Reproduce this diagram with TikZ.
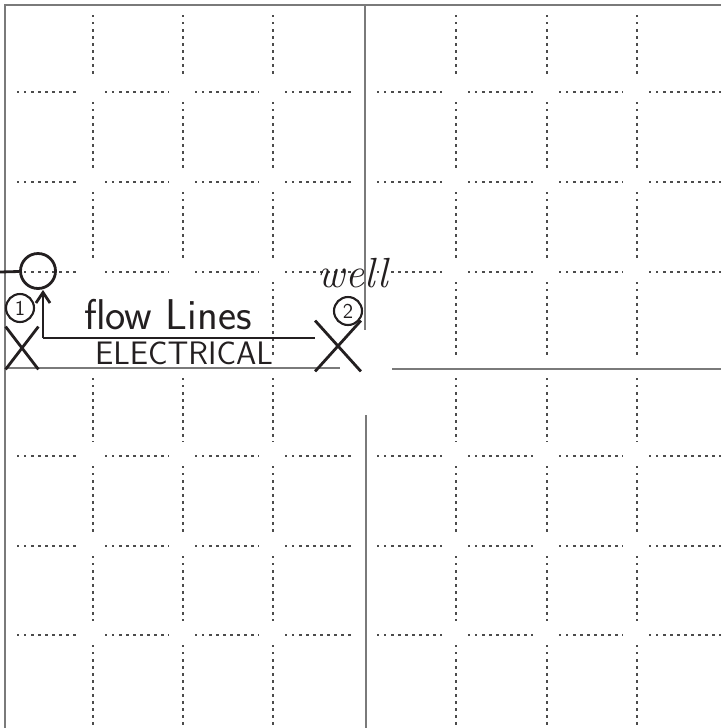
\documentclass[tikz,border=0pt]{standalone}
\usepackage{tikz}
\usetikzlibrary{arrows.meta, positioning, shapes.misc}
\definecolor{gridGray}{HTML}{7A7A7A}
\definecolor{penInk}{HTML}{231F20}

\begin{document}
\begin{tikzpicture}[x=0.02cm, y=-0.02cm,
    ink/.style={draw=penInk, line width=1.6pt},
    dots/.style={draw=black!70, line width=1.4pt, dash pattern=on 1.4pt off 2.6pt},
    wellmark/.style={cross out, draw=penInk, line width=1.6pt, inner sep=0pt},
    wellnum/.style={circle, draw=penInk, line width=1.2pt, minimum size=0.56cm,
      inner sep=0pt, font=\sffamily\large, text=penInk},
    note/.style={inner sep=0pt, anchor=base, text=penInk}]
        \useasboundingbox (0,0) rectangle (721,728);
        % section lines
        \draw[gridGray, line width=0.6pt] (5,728) -- (5,5) -- (721,5);
        \draw[gridGray, line width=0.6pt] (365,5) -- (365,330);
        \draw[gridGray, line width=0.6pt] (366,415) -- (366,728);
        \draw[gridGray, line width=0.6pt] (5,368) -- (340,368);
        \draw[gridGray, line width=0.6pt] (392,369) -- (721,369);
        % dotted quarter lines
        \foreach \x in {93,183,273,456,547,637}
          \foreach \a/\b in {5/92,92/182,182/272,368/456,456/546,546/635,635/742}
            \draw[dots] (\x,\a+10) -- (\x,\b-14);
        \foreach \x in {273,456,547,637}
          \draw[dots] (\x,282) -- (\x,358);
        \foreach \y in {92,182,272,456,546,635}
          \foreach \a/\b in {5/93,93/183,183/273,273/365,365/456,456/547,547/637,637/735}
            \draw[dots] (\a+12,\y) -- (\b-14,\y);
        % hand notes
        \node[circle, draw=penInk, line width=1.6pt, minimum size=0.7cm, inner sep=0pt]
          (tank) at (38,271) {};
        \coordinate (lineIn) at (0,272);
        \coordinate (bend) at (43,338);
        \node[wellnum] (num1) at (20,308) {1};
        \node[wellmark, minimum width=0.6cm, minimum height=0.8cm] (well1) at (22,348) {};
        \node[wellnum] (num2) at (348,311) {2};
        \node[wellmark, minimum width=0.86cm, minimum height=0.96cm] (well2) at (338,346) {};
        \draw[ink] (lineIn) -- (tank);
        \draw[ink, -{Straight Barb[length=6pt, width=8pt]}] (bend) -- (bend |- tank.south);
        \draw[ink] (bend) -- (bend -| well2.west);
        \node[note, font=\sffamily\fontsize{24.5}{24.5}\selectfont] (flowLbl) at (168,329) {flow Lines};
        \node[note, font=\sffamily\fontsize{18.5}{18.5}\selectfont] (elecLbl) at (184,364) {ELECTRICAL};
        \node[note, font=\itshape\fontsize{24}{24}\selectfont] (wellLbl) at (353,287) {well};
      \end{tikzpicture}
\end{document}
